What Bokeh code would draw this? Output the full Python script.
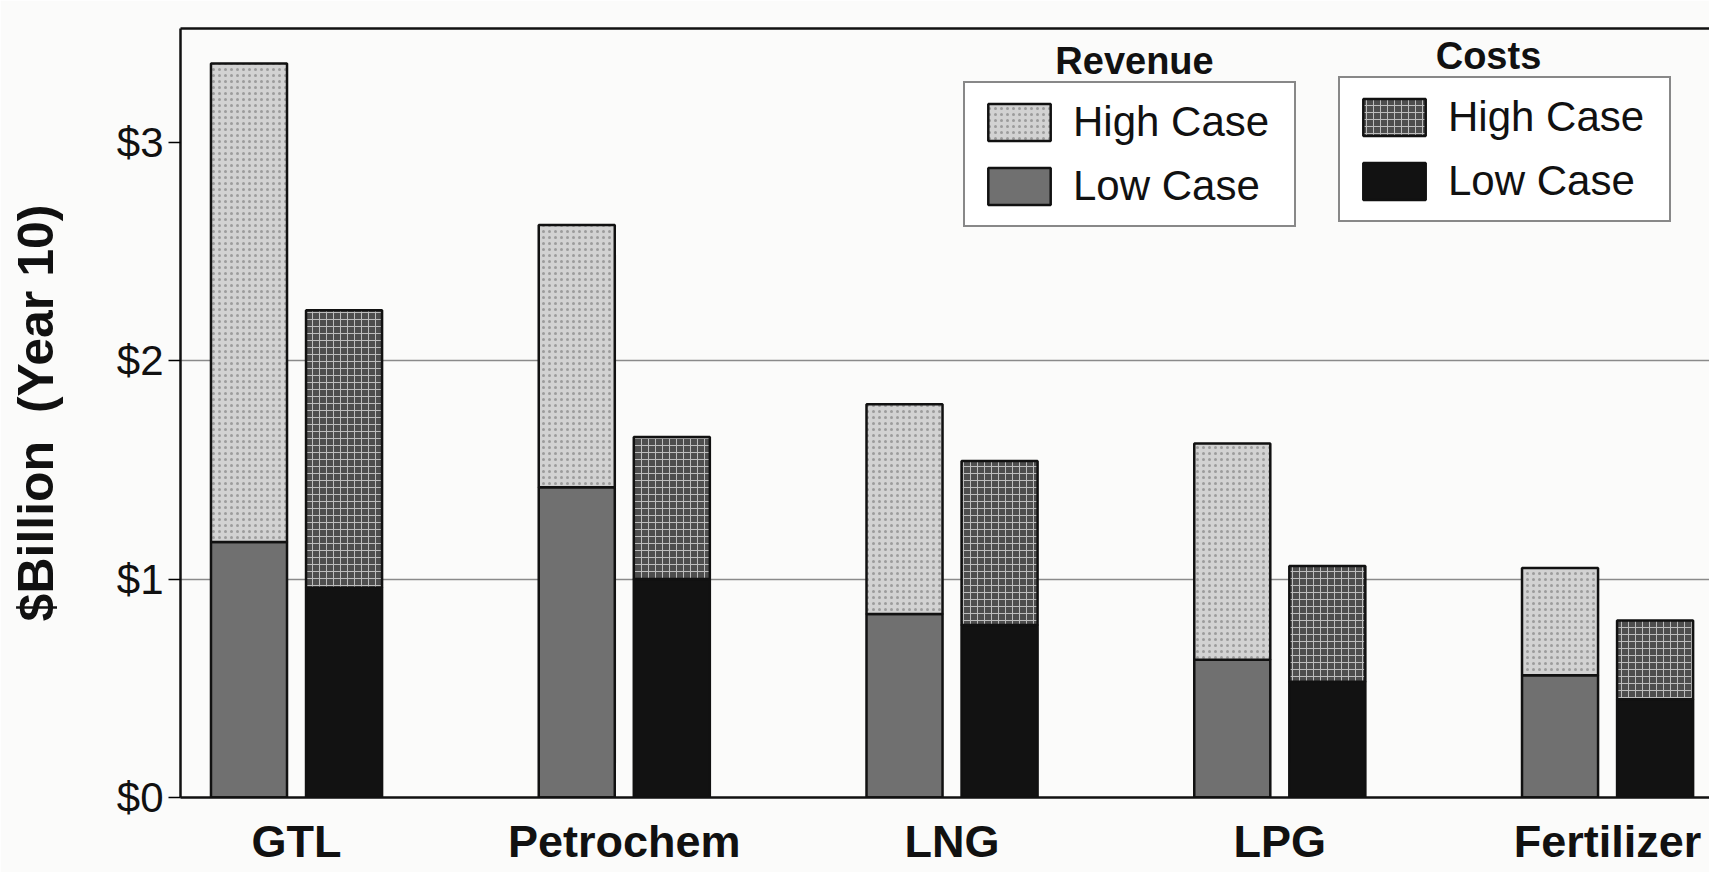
from bokeh.plotting import figure
from bokeh.models import (Range1d, FixedTicker, LinearAxis, Legend, LegendItem, Label,
                          PrintfTickFormatter, ColumnDataSource)
from bokeh.transform import dodge
from bokeh.embed import file_html
from bokeh.resources import INLINE

# ---- data ($ billion, year 10) ----
categories = ["GTL", "Petrochem", "LNG", "LPG", "Fertilizer"]
revenue_low = [1.17, 1.42, 0.84, 0.63, 0.56]
revenue_high = [3.36, 2.62, 1.80, 1.62, 1.05]
costs_low = [0.96, 1.00, 0.79, 0.53, 0.45]
costs_high = [2.23, 1.65, 1.54, 1.06, 0.81]
y_ticks = [0, 1, 2, 3]

FONT = "Liberation Sans"

src = ColumnDataSource(dict(
    x=list(range(len(categories))),
    rev_low=revenue_low, rev_high=revenue_high,
    cost_low=costs_low, cost_high=costs_high,
))

p = figure(width=1709, height=872, output_backend="svg", toolbar_location=None,
           x_range=Range1d(-0.354, 4.311), y_range=Range1d(0, 3.52),
           min_border_left=180, min_border_right=0, min_border_top=28, min_border_bottom=75,
           background_fill_color="#fbfbfa", border_fill_color="#fbfbfa")
p.outline_line_color = None

bw = 0.232
off = 0.145
edge = dict(line_color="#111111", line_width=2.5)

r_rev_low = p.vbar(x=dodge("x", -off, range=p.x_range), top="rev_low", width=bw, source=src,
                   fill_color="#707070", **edge)
r_rev_high = p.vbar(x=dodge("x", -off, range=p.x_range), bottom="rev_low", top="rev_high", width=bw,
                    source=src, fill_color="#d2d2d2", hatch_pattern="dot", hatch_color="#9c9c9c",
                    hatch_scale=6, hatch_weight=1.2, **edge)
r_cost_low = p.vbar(x=dodge("x", off, range=p.x_range), top="cost_low", width=bw, source=src,
                    fill_color="#121212", **edge)
r_cost_high = p.vbar(x=dodge("x", off, range=p.x_range), bottom="cost_low", top="cost_high", width=bw,
                     source=src, fill_color="#4e4e4e", hatch_pattern="cross", hatch_color="#bdbdbd",
                     hatch_scale=7, hatch_weight=1, **edge)

# ---- axes ----
p.xaxis.ticker = FixedTicker(ticks=list(range(len(categories))))
p.xaxis.major_label_overrides = {i: c for i, c in enumerate(categories)}
p.xaxis.major_label_text_font = FONT
p.xaxis.major_label_text_font_size = "45px"
p.xaxis.major_label_text_font_style = "bold"
p.xaxis.major_label_text_color = "#111111"
p.xaxis.major_label_standoff = 12
p.xaxis.major_tick_line_color = None
p.xaxis.minor_tick_line_color = None
p.xaxis.axis_line_width = 2.5
p.xaxis.axis_line_color = "#111111"

p.yaxis.ticker = FixedTicker(ticks=y_ticks)
p.yaxis.formatter = PrintfTickFormatter(format="$%d")
p.yaxis.major_label_text_font = FONT
p.yaxis.major_label_text_font_size = "42px"
p.yaxis.major_label_text_color = "#111111"
p.yaxis.major_label_standoff = 5
p.yaxis.major_tick_out = 12
p.yaxis.major_tick_in = 0
p.yaxis.major_tick_line_width = 1.5
p.yaxis.minor_tick_line_color = None
p.yaxis.axis_line_width = 2.5
p.yaxis.axis_line_color = "#111111"
p.yaxis.axis_label = "$Billion\u00a0 (Year 10)"
p.yaxis.axis_label_text_font = FONT
p.yaxis.axis_label_text_font_size = "50px"
p.yaxis.axis_label_text_font_style = "bold"
p.yaxis.axis_label_text_color = "#111111"
p.yaxis.axis_label_standoff = 50

top_axis = LinearAxis(ticker=FixedTicker(ticks=[]), axis_line_width=2.5, axis_line_color="#111111",
                      major_tick_line_color=None, minor_tick_line_color=None)
p.add_layout(top_axis, "above")

p.xgrid.grid_line_color = None
p.ygrid.ticker = FixedTicker(ticks=[1, 2])
p.ygrid.grid_line_color = "#8a8a8a"
p.ygrid.grid_line_width = 1.5

# ---- legends ----
leg_style = dict(label_text_font=FONT, label_text_font_size="42px", label_text_color="#111111",
                 glyph_width=78, glyph_height=46, label_height=46, label_width=206,
                 label_standoff=15, spacing=16, padding=15, margin=0,
                 border_line_color="#111111", border_line_width=2,
                 background_fill_color="white", background_fill_alpha=1.0)

leg_rev = Legend(items=[LegendItem(label="High Case", renderers=[r_rev_high]),
                        LegendItem(label="Low Case", renderers=[r_rev_low])],
                 location=(783, 570), **leg_style)
leg_cost = Legend(items=[LegendItem(label="High Case", renderers=[r_cost_high]),
                         LegendItem(label="Low Case", renderers=[r_cost_low])],
                  location=(1158, 575), **leg_style)
p.add_layout(leg_rev, "center")
p.add_layout(leg_cost, "center")

title_style = dict(x_units="screen", y_units="screen", text_font=FONT, text_font_size="38px",
                   text_font_style="bold", text_align="center", text_baseline="middle",
                   text_color="#111111")
p.add_layout(Label(x=954, y=737, text="Revenue", **title_style))
p.add_layout(Label(x=1308, y=742, text="Costs", **title_style))

open("out.html", "w").write(file_html(p, INLINE))
